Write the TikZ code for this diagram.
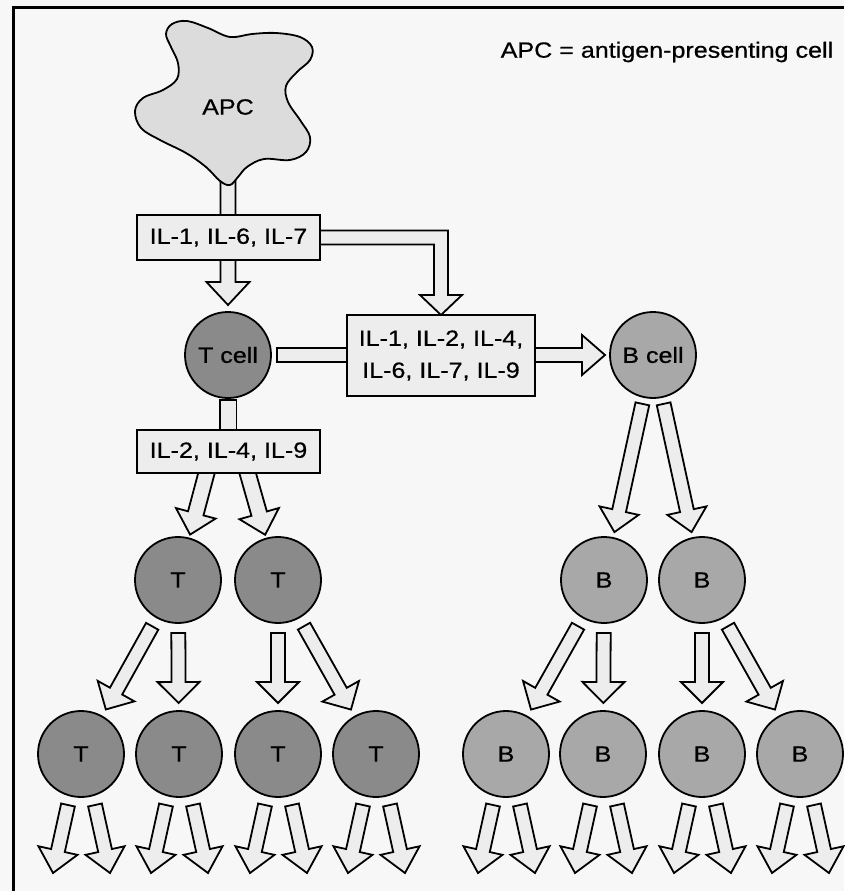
\documentclass[tikz,border=0pt]{standalone}
\usepackage{fontspec}
\setmainfont[FakeStretch=1.14, FakeBold=0.6]{Liberation Sans}
\usetikzlibrary{calc}
\definecolor{tcol}{HTML}{8A8A8A}
\definecolor{bcol}{HTML}{A8A8A8}
\definecolor{apccol}{HTML}{DCDCDC}
\definecolor{arrcol}{HTML}{EDEDED}
\definecolor{bgcol}{HTML}{F7F7F7}
\tikzset{
  lbl/.style={font=\fontsize{22}{32}\selectfont},
  tcell/.style={circle, draw, line width=1.8pt, fill=tcol, minimum size=86pt, inner sep=0pt, lbl},
  bcell/.style={tcell, fill=bcol},
  ilbox/.style={draw, line width=1.8pt, fill=arrcol, lbl, inner sep=0pt, align=center},
  blockarrow/.style={draw, line width=1.8pt, fill=arrcol, line join=miter},
  framestyle/.style={line width=3pt, black},
}
% block arrow: #1 start, #2 tip, #3 half shaft, #4 half head, #5 head length
\newcommand{\barrow}[5]{%
  \coordinate (ba-s) at (#1);
  \coordinate (ba-t) at (#2);
  \coordinate (ba-h) at ($(ba-t)!#5!(ba-s)$);
  \draw[blockarrow] ($(ba-s)!#3!90:(ba-t)$) -- ($(ba-h)!#3!90:(ba-t)$) -- ($(ba-h)!#4!90:(ba-t)$) -- (ba-t)
    -- ($(ba-h)!#4!-90:(ba-t)$) -- ($(ba-h)!#3!-90:(ba-t)$) -- ($(ba-s)!#3!-90:(ba-t)$) -- cycle;
}
% cell to cell arrow
\newcommand{\cellarrow}[4]{\barrow{$(#1)!#3!(#2)$}{$(#2)!#4!(#1)$}{7pt}{21pt}{21pt}}
\begin{document}
\begin{tikzpicture}[x=1pt, y=-1pt]
  \fill[bgcol] (0,0) rectangle (844,891);
  \useasboundingbox (0,0) rectangle (844,891);
  \draw[framestyle] (12,7.5) -- (844,7.5);
  \draw[framestyle] (13.5,6) -- (13.5,891);

  % positions of the main nodes
  \coordinate (apcc) at (228,107);
  \coordinate (tcc) at (228,355);
  \coordinate (bcc) at (653,355);
  \coordinate (bxa) at (228.5,237.5);
  \coordinate (bxb) at (441,355.5);
  \coordinate (bxc) at (228.5,451.5);

  % ---------- arrows (behind) ----------
  % APC -> T cell
  \barrow{$(apcc)+(0,60)$}{$(tcc)!50pt!(apcc)$}{7.5pt}{21.5pt}{23pt}
  % branch from first box to second box
  \coordinate (corner) at (bxa -| bxb);
  \coordinate (bxbtop) at ($(bxb)+(0,-40.5)$);
  \draw[blockarrow] ($(bxa)+(0,-7)$) -- ($(corner)+(7,-7)$) -- ($(bxbtop)+(7,-20)$) -- ($(bxbtop)+(21,-20)$)
     -- (bxbtop) -- ($(bxbtop)+(-21,-20)$) -- ($(bxbtop)+(-7,-20)$) -- ($(corner)+(-7,7)$) -- ($(bxa)+(0,7)$) -- cycle;
  % T cell -> B cell
  \barrow{$(tcc)!49pt!(bcc)$}{$(bcc)!48pt!(tcc)$}{7pt}{20pt}{23pt}
  % T cell -> third box stem
  \draw[blockarrow] ($(tcc)+(-8,45)$) rectangle ($(bxc)+(8,0)$);

  % ---------- daughter cells ----------
  \node[tcell] (t2a) at (178,580) {T};
  \node[tcell] (t2b) at (278,580) {T};
  \node[bcell] (b2a) at (604,580) {B};
  \node[bcell] (b2b) at (702,580) {B};
  \node[tcell] (t3a) at (81,754) {T};
  \node[tcell] (t3b) at (179,754) {T};
  \node[tcell] (t3c) at (278,754) {T};
  \node[tcell] (t3d) at (376,754) {T};
  \node[bcell] (b3a) at (506,754) {B};
  \node[bcell] (b3b) at (603,754) {B};
  \node[bcell] (b3c) at (702,754) {B};
  \node[bcell] (b3d) at (800,754) {B};

  % third box -> T
  \coordinate (s1) at ($(bxc)+(-20,14)$);
  \coordinate (s2) at ($(bxc)+(17,14)$);
  \barrow{s1}{$(t2a)!47pt!(s1)$}{8pt}{20.5pt}{22pt}
  \barrow{s2}{$(t2b)!47pt!(s2)$}{8pt}{20.5pt}{22pt}
  % B cell -> B
  \barrow{$(bcc)!50pt!(b2a)$}{$(b2a)!49pt!(bcc)$}{7pt}{20pt}{22pt}
  \barrow{$(bcc)!50pt!(b2b)$}{$(b2b)!49pt!(bcc)$}{7pt}{20pt}{22pt}
  % second level
  \cellarrow{t2a}{t3a}{53pt}{51pt}
  \cellarrow{t2a}{t3b}{53pt}{51pt}
  \cellarrow{t2b}{t3c}{53pt}{51pt}
  \cellarrow{t2b}{t3d}{53pt}{51pt}
  \cellarrow{b2a}{b3a}{53pt}{51pt}
  \cellarrow{b2a}{b3b}{53pt}{51pt}
  \cellarrow{b2b}{b3c}{53pt}{51pt}
  \cellarrow{b2b}{b3d}{53pt}{51pt}
  % bottom arrows with free ends
  \foreach \c in {t3a,t3b,t3c,t3d,b3a,b3b,b3c,b3d}{
    \coordinate (\c-l) at ($(\c)+(-28,119)$);
    \coordinate (\c-r) at ($(\c)+(29,119)$);
    \barrow{$(\c)+(-13,51)$}{\c-l}{7pt}{20pt}{23pt}
    \barrow{$(\c)+(14,51)$}{\c-r}{7pt}{20pt}{23pt}
  }

  % ---------- APC blob ----------
  \draw[line width=1.8pt, fill=apccol] plot[smooth cycle, tension=0.6] coordinates {
    (166,34) (172,24) (187,21) (208,28) (230,37) (252,34) (276,33) (300,37) (312,47) (310,60)
    (297,72) (286,86) (288,102) (300,120) (310,137) (306,152) (290,160) (264,159) (247,167)
    (238,177) (230,185) (220,181) (206,167) (186,153) (160,140) (141,128) (135,111) (143,98)
    (163,90) (177,79) (178,63) (171,47)};
  \node[lbl] (apc) at (apcc) {APC};

  % ---------- boxes and main cells ----------
  \node[ilbox, minimum width=183pt, minimum height=45pt] (box1) at (bxa) {IL-1, IL-6, IL-7};
  \node[ilbox, minimum width=188pt, minimum height=81pt] (box2) at (bxb) {IL-1, IL-2, IL-4,\\IL-6, IL-7, IL-9};
  \node[ilbox, minimum width=183pt, minimum height=43pt] (box3) at (bxc) {IL-2, IL-4, IL-9};
  \node[tcell] (tc) at (tcc) {T cell};
  \node[bcell] (bc) at (bcc) {B cell};

  \node[lbl] (legend) at (667,52) {APC = antigen-presenting cell};
\end{tikzpicture}
\end{document}
